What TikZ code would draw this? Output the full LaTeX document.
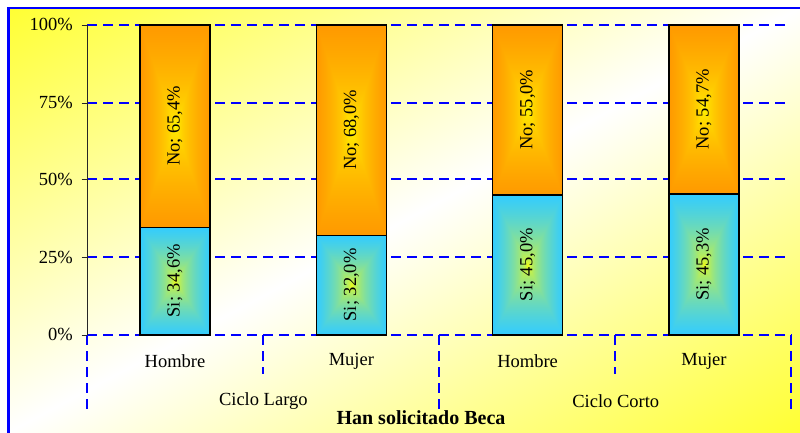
\documentclass[tikz,border=0pt]{standalone}
\usepackage{fontspec}
\setmainfont{Liberation Serif}
\pgfdeclarefunctionalshading{bgshade}{\pgfpoint{-50bp}{-50bp}}{\pgfpoint{50bp}{50bp}}{}{
  sub abs 50 div dup 1 gt {pop 1} if
  0.8 mul 1 exch sub 1 1 3 -1 roll }
\pgfdeclarefunctionalshading{noshade}{\pgfpoint{-50bp}{-50bp}}{\pgfpoint{50bp}{50bp}}{}{
  abs exch abs 2 copy lt {exch} if pop 25 div dup 1 gt {pop 1} if sqrt
  0.4 mul 1 exch sub 1 exch 0 }
\pgfdeclarefunctionalshading{sishade}{\pgfpoint{-50bp}{-50bp}}{\pgfpoint{50bp}{50bp}}{}{
  abs exch abs 2 copy lt {exch} if pop 25 div dup 1 gt {pop 1} if sqrt
  dup dup 0.8 mul 1 exch sub 3 1 roll 0.2 mul 1 exch sub exch }
\definecolor{frameblue}{RGB}{0,0,255}
\tikzset{
  gridline/.style={frameblue, line width=1.1pt, dash pattern=on 10pt off 6pt},
  sepline/.style={frameblue, line width=1.1pt, dash pattern=on 10pt off 6pt},
  axisline/.style={black!85, line width=1pt},
  barno/.style={shading=noshade, draw=black, line width=1.4pt},
  barsi/.style={shading=sishade, draw=black, line width=1.4pt},
  lbl/.style={font=\fontsize{18.5}{20}\selectfont, inner sep=0pt},
  barlbl/.style={lbl, rotate=90},
  ttl/.style={font=\fontsize{20}{22}\selectfont\bfseries, inner sep=0pt},
}
\begin{document}
\begin{tikzpicture}[x=1pt,y=-1pt]
\useasboundingbox (0,0) rectangle (800,432);
\fill[white] (0,0) rectangle (800,432);
\shade[shading=bgshade] (8.5,8) rectangle (800,432);
\draw[frameblue, line width=2.5pt] (8.5,433) -- (8.5,8) -- (801,8);
% grid
\foreach \yy in {25,103,179,257}{
  \draw[gridline] (87,\yy) -- (788,\yy);
}
\draw[gridline] (87,335) -- (792,335);
% separators
\draw[sepline] (87,335) -- (87,415);
\draw[sepline] (263,335) -- (263,374);
\draw[sepline] (439,335) -- (439,415);
\draw[sepline] (615,335) -- (615,374);
\draw[sepline] (791,335) -- (791,415);
% bars
\shade[barno] (140,25) rectangle (210,227.2);
\shade[barsi] (140,227.2) rectangle (210,335);
\shade[barno] (316.4,25) rectangle (386.4,235.3);
\shade[barsi] (316.4,235.3) rectangle (386.4,335);
\shade[barno] (492.6,25) rectangle (562.6,195);
\shade[barsi] (492.6,195) rectangle (562.6,335);
\shade[barno] (668.9,25) rectangle (738.9,194.1);
\shade[barsi] (668.9,194.1) rectangle (738.9,335);
% axis
\draw[axisline] (87,25) -- (87,335);
\foreach \yy in {25,103,179,257,335}{
  \draw[axisline] (81.5,\yy) -- (87,\yy);
}
\node[lbl, anchor=east] (t100) at (73,24.5) {100\%};
\node[lbl, anchor=east] (t75) at (73,102.5) {75\%};
\node[lbl, anchor=east] (t50) at (73,179.5) {50\%};
\node[lbl, anchor=east] (t25) at (73,257.5) {25\%};
\node[lbl, anchor=east] (t0) at (73,334.5) {0\%};
% bar labels
\node[barlbl] (n1) at (175,125.8) {No; 65,4\%};
\node[barlbl] (s1) at (175,280.8) {Si; 34,6\%};
\node[barlbl] (n2) at (351.4,129.9) {No; 68,0\%};
\node[barlbl] (s2) at (351.4,284.9) {Si; 32,0\%};
\node[barlbl] (n3) at (527.6,109.7) {No; 55,0\%};
\node[barlbl] (s3) at (527.6,264.7) {Si; 45,0\%};
\node[barlbl] (n4) at (703.9,109.3) {No; 54,7\%};
\node[barlbl] (s4) at (703.9,264.3) {Si; 45,3\%};
% category labels
\node[lbl] (c1) at (175,361) {Hombre};
\node[lbl] (c2) at (351.4,361) {Mujer};
\node[lbl] (c3) at (527.6,361) {Hombre};
\node[lbl] (c4) at (703.9,361) {Mujer};
\node[lbl] (g1) at (263.3,401) {Ciclo Largo};
\node[lbl] (g2) at (615.8,401) {Ciclo Corto};
\node[ttl] (title) at (421,418) {Han solicitado Beca};
\end{tikzpicture}
\end{document}
